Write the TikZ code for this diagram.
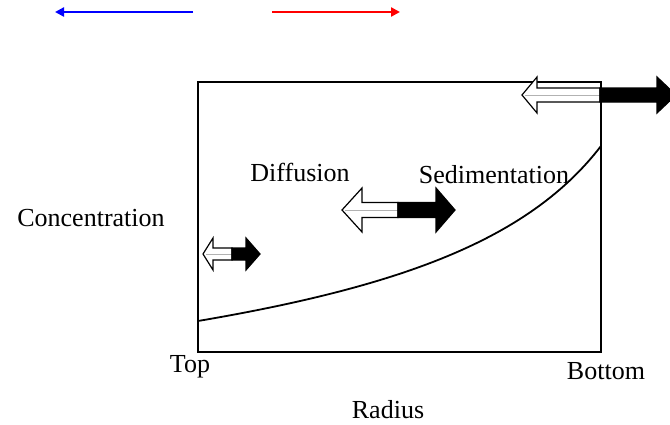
\documentclass[tikz,border=0pt]{standalone}
\usepackage{fontspec}
\setmainfont{Liberation Serif}
\usetikzlibrary{arrows.meta}
\tikzset{
  lbl/.style={font=\fontsize{26}{30}\selectfont, inner sep=0pt},
  frame/.style={line width=1.8pt},
  curveline/.style={line width=1.8pt},
  whitepart/.style={draw=black, fill=white, line width=1.2pt, line join=miter},
  blackpart/.style={draw=black, fill=black, line width=1.2pt, line join=miter},
  midline/.style={draw=gray!60, line width=0.6pt},
  legendarrow/.style={line width=2.4pt, -{Triangle[length=9pt,width=9pt]}}
}
% #1 left tip, #2 left head back, #3 split, #4 right head back, #5 right tip, #6 centre y, #7 shaft half, #8 head half
\newcommand\fatdarrow[8]{%
  \pgfmathsetmacro\sa{#6-#7}\pgfmathsetmacro\sb{#6+#7}%
  \pgfmathsetmacro\ha{#6-#8}\pgfmathsetmacro\hb{#6+#8}%
  \fill[white] (#1,#6) -- (#2,\ha) -- (#2,\sa) -- (#3,\sa) -- (#3,\sb) -- (#2,\sb) -- (#2,\hb) -- cycle;
  \draw[midline] (#1+3,#6) -- (#3,#6);
  \draw[whitepart, fill=none] (#1,#6) -- (#2,\ha) -- (#2,\sa) -- (#3,\sa) -- (#3,\sb) -- (#2,\sb) -- (#2,\hb) -- cycle;
  \draw[blackpart] (#3,\sa) -- (#4,\sa) -- (#4,\ha) -- (#5,#6) -- (#4,\hb) -- (#4,\sb) -- (#3,\sb) -- cycle;
}
\begin{document}
\begin{tikzpicture}[x=1pt, y=-1pt]
\useasboundingbox (0,0) rectangle (670,424);
\clip (0,0) rectangle (670,424);
% legend arrows
\coordinate (b1) at (193,12); \coordinate (b2) at (55,12);
\coordinate (r1) at (272,12); \coordinate (r2) at (400,12);
\draw[legendarrow, blue] (b1) -- (b2);
\draw[legendarrow, red] (r1) -- (r2);
% frame
\coordinate (tl) at (198,82); \coordinate (br) at (601,352);
\draw[frame] (tl) rectangle (br);
% curve
\coordinate (c0) at (198,321); \coordinate (c1) at (601,146);
\draw[curveline] (c0) .. controls (408,285.3) and (531,237) .. (c1);
% fat arrows
\fatdarrow{203}{213}{232}{246}{260}{254}{6}{16}
\fatdarrow{342}{362}{398}{436}{455}{210}{7.5}{22}
\fatdarrow{522}{537}{600}{657}{676}{95}{7}{18}
% labels
\node[lbl] (conc) at (91,218) {Concentration};
\node[lbl] (diff) at (300,172) {Diffusion};
\node[lbl] (sed) at (494,175) {Sedimentation};
\node[lbl] (top) at (190,367) {Top};
\node[lbl] (bot) at (606,371) {Bottom};
\node[lbl] (rad) at (388,410) {Radius};
\end{tikzpicture}
\end{document}
